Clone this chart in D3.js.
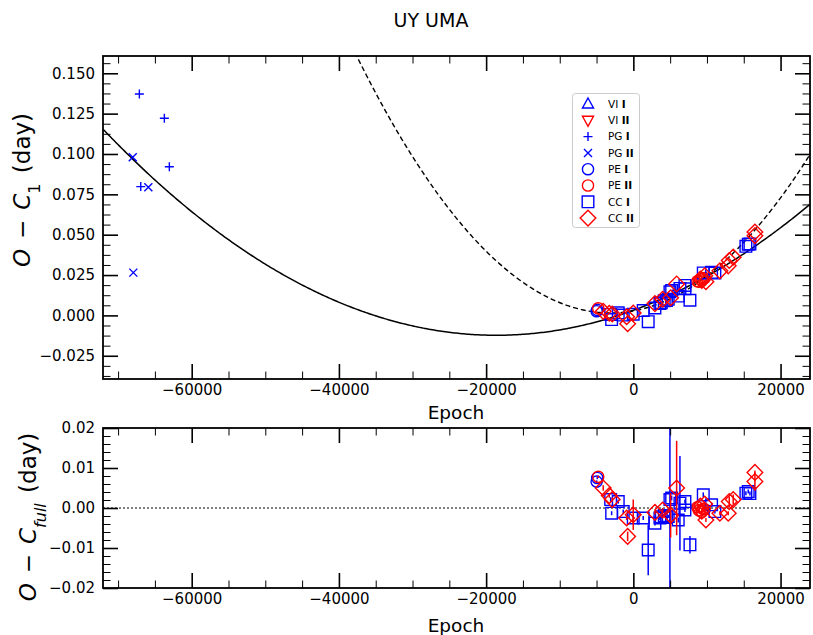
<!DOCTYPE html>
<html>
<head>
<meta charset="utf-8">
<script src="https://cdn.jsdelivr.net/npm/d3@7"></script>
<style>
  body { margin: 0; background: #fff; }
  svg text { font-family: "DejaVu Sans", sans-serif; fill: #000; }
</style>
</head>
<body>
<svg id="chart" width="813" height="635"></svg>
<script>
// ---- Observed times of minimum: epoch, O-C1 (day), residual O-C_full (day), residual error ----
const viIEpoch = [], viIOC = [], viIRes = [], viIErr = [];
const viIIEpoch = [], viIIOC = [], viIIRes = [], viIIErr = [];

const pgIEpoch = [-67110, -63715, -63036, -66920];
const pgIOC    = [0.1372, 0.1221, 0.0921, 0.0798];

const pgIIEpoch = [-68010, -65890, -67930];
const pgIIOC    = [0.0980, 0.0794, 0.0265];

const peIEpoch = [-4985, -4900];
const peIOC    = [0.0026, 0.0034];
const peIRes   = [0.0066, 0.0075];
const peIErr   = [0.0003, 0.0003];

const peIIEpoch = [-4770, 8700, 8900, 9100, 9300, 9500, 9700];
const peIIOC    = [0.0044, 0.0212, 0.0209, 0.0225, 0.0215, 0.0228, 0.0232];
const peIIRes   = [0.0078, 0.0002, -0.0006, 0.0005, -0.0010, -0.0002, -0.0003];
const peIIErr   = [0.0003, 0.0004, 0.0004, 0.0004, 0.0004, 0.0004, 0.0004];

const ccIEpoch = [-3083, -2950, -2050, -1370, -14, 1340, 2020, 2934, 3610, 3800, 4200, 4500, 4740,
                  4970, 5200, 6100, 6330, 7010, 7010, 7690, 9500, 10630, 11080, 15290, 15610, 15840];
const ccIOC    = [0.0006, -0.0026, 0.0016, 0.0002, 0.0007, 0.0030, -0.0039, 0.0046, 0.0073, 0.0079, 0.0090, 0.0092, 0.0100,
                  0.0146, 0.0155, 0.0120, 0.0167, 0.0186, 0.0165, 0.0094, 0.0263, 0.0267, 0.0262, 0.0428, 0.0441, 0.0443];
const ccIRes   = [0.0021, -0.0013, 0.0016, -0.0009, -0.0025, -0.0025, -0.0105, -0.0038, -0.0025, -0.0022, -0.0019, -0.0024, -0.0021,
                  0.0021, 0.0025, -0.0030, 0.0012, 0.0016, -0.0005, -0.0092, 0.0033, 0.0008, -0.0009, 0.0037, 0.0041, 0.0036];
const ccIErr   = [0.0006, 0.0005, 0.0005, 0.0005, 0.0005, 0.0005, 0.0063, 0.0006, 0.0005, 0.0004, 0.0004, 0.0004, 0.0004,
                  0.0250, 0.0006, 0.0006, 0.0118, 0.0005, 0.0005, 0.0022, 0.0006, 0.0005, 0.0005, 0.0005, 0.0005, 0.0005];

const ccIIEpoch = [-4090, -3270, -2866, -910, -774, -14, 2934, 3980, 5066, 5881, 9100, 9300, 9700, 9860,
                   11760, 12890, 13030, 13570, 16516, 16516];
const ccIIOC    = [0.0025, 0.0013, 0.0009, -0.0008, -0.0052, 0.0015, 0.0073, 0.0100, 0.0109, 0.0195, 0.0226, 0.0217, 0.0245, 0.0209,
                   0.0276, 0.0307, 0.0340, 0.0361, 0.0517, 0.0494];
const ccIIRes   = [0.0050, 0.0031, 0.0021, -0.0025, -0.0071, -0.0017, -0.0011, -0.0005, -0.0018, 0.0050, 0.0005, -0.0008, 0.0010, -0.0030,
                   -0.0013, -0.0013, 0.0016, 0.0021, 0.0089, 0.0066];
const ccIIErr   = [0.0007, 0.0005, 0.0005, 0.0005, 0.0012, 0.0038, 0.0005, 0.0005, 0.0056, 0.0118, 0.0005, 0.0005, 0.0005, 0.0005,
                   0.0005, 0.0005, 0.0013, 0.0013, 0.0005, 0.0023];

// ---- Quadratic ephemerides (c0 + c1*E + c2*E^2): full data set and recent data only ----
const quadFull   = [0.003173, 1.6633e-6, 4.47e-11];
const quadRecent = [0.002778, 8.269e-7, 1.338e-10];

// ---- Axis ranges and ticks ----
const epochRange   = [-72050, 24000];
const epochTicks   = [-60000, -40000, -20000, 0, 20000];
const ocTopRange   = [-0.0394, 0.1607];
const ocTopTicks   = [-0.025, 0.000, 0.025, 0.050, 0.075, 0.100, 0.125, 0.150];
const ocBotRange   = [-0.02, 0.02];
const ocBotTicks   = [-0.02, -0.01, 0.00, 0.01, 0.02];

const legendNames = [["VI", "I"], ["VI", "II"], ["PG", "I"], ["PG", "II"], ["PE", "I"], ["PE", "II"], ["CC", "I"], ["CC", "II"]];

// ---- Series table ----
const BLUE = "#0000ff", RED = "#ff0000";
const series = [
  { shape: "triUp",   color: BLUE, epoch: viIEpoch,  oc: viIOC,  res: viIRes,  err: viIErr },
  { shape: "triDown", color: RED,  epoch: viIIEpoch, oc: viIIOC, res: viIIRes, err: viIIErr },
  { shape: "plus",    color: BLUE, epoch: pgIEpoch,  oc: pgIOC,  res: [], err: [] },
  { shape: "cross",   color: BLUE, epoch: pgIIEpoch, oc: pgIIOC, res: [], err: [] },
  { shape: "circle",  color: BLUE, epoch: peIEpoch,  oc: peIOC,  res: peIRes,  err: peIErr },
  { shape: "circle",  color: RED,  epoch: peIIEpoch, oc: peIIOC, res: peIIRes, err: peIIErr },
  { shape: "square",  color: BLUE, epoch: ccIEpoch,  oc: ccIOC,  res: ccIRes,  err: ccIErr },
  { shape: "diamond", color: RED,  epoch: ccIIEpoch, oc: ccIIOC, res: ccIIRes, err: ccIIErr }
];

// ---- Layout ----
const svg = d3.select("#chart");
const L = 103, R = 810;
const top1 = 56, bot1 = 379, top2 = 428, bot2 = 588;

const x = d3.scaleLinear().domain(epochRange).range([L, R]);
const y1 = d3.scaleLinear().domain(ocTopRange).range([bot1, top1]);
const y2 = d3.scaleLinear().domain(ocBotRange).range([bot2, top2]);

function markerPath(shape) {
  switch (shape) {
    case "triUp":   return "M0,-6L5.5,4L-5.5,4Z";
    case "triDown": return "M0,6L5.5,-4L-5.5,-4Z";
    case "plus":    return "M-4.5,0H4.5M0,-4.5V4.5";
    case "cross":   return "M-4,-4L4,4M-4,4L4,-4";
    case "circle":  return d3.arc()({ innerRadius: 0, outerRadius: 5.6, startAngle: 0, endAngle: 2 * Math.PI });
    case "square":  return "M-5.8,-5.8H5.8V5.8H-5.8Z";
    case "diamond": return "M0,-7.8L7.8,0L0,7.8L-7.8,0Z";
  }
}

const defs = svg.append("defs");
defs.append("clipPath").attr("id", "clipTop")
  .append("rect").attr("x", L).attr("y", top1).attr("width", R - L).attr("height", bot1 - top1);
defs.append("clipPath").attr("id", "clipBot")
  .append("rect").attr("x", L).attr("y", top2).attr("width", R - L).attr("height", bot2 - top2);

function drawAxes(yScale, yTicks, yFmt, yTop, yBot, minorStep) {
  const g = svg.append("g");
  const majorX = epochTicks;
  const minorX = d3.range(-70000, 24001, 5000).filter(v => !majorX.includes(v));
  const majorY = yTicks;
  const minorY = d3.range(Math.ceil(yScale.domain()[0] / minorStep), Math.floor(yScale.domain()[1] / minorStep) + 1)
    .map(k => +(k * minorStep).toFixed(6))
    .filter(v => !majorY.some(m => Math.abs(m - v) < 1e-9));

  const style = (sel, w) => {
    sel.select(".domain").remove();
    sel.selectAll(".tick line").attr("stroke", "#000").attr("stroke-width", w);
    sel.selectAll(".tick text").style("font-size", "15px");
  };

  // bottom
  g.append("g").attr("transform", `translate(0,${yBot})`)
    .call(d3.axisBottom(x).tickValues(majorX).tickSize(-15).tickPadding(5).tickFormat(d3.format("d")))
    .call(s => style(s, 1.6));
  g.append("g").attr("transform", `translate(0,${yBot})`)
    .call(d3.axisBottom(x).tickValues(minorX).tickSize(-7.5).tickFormat(""))
    .call(s => style(s, 1));
  // top
  g.append("g").attr("transform", `translate(0,${yTop})`)
    .call(d3.axisTop(x).tickValues(majorX).tickSize(-15).tickFormat(""))
    .call(s => style(s, 1.6));
  g.append("g").attr("transform", `translate(0,${yTop})`)
    .call(d3.axisTop(x).tickValues(minorX).tickSize(-7.5).tickFormat(""))
    .call(s => style(s, 1));
  // left
  g.append("g").attr("transform", `translate(${L},0)`)
    .call(d3.axisLeft(yScale).tickValues(majorY).tickSize(-15).tickPadding(8).tickFormat(yFmt))
    .call(s => style(s, 1.6));
  g.append("g").attr("transform", `translate(${L},0)`)
    .call(d3.axisLeft(yScale).tickValues(minorY).tickSize(-7.5).tickFormat(""))
    .call(s => style(s, 1));
  // right
  g.append("g").attr("transform", `translate(${R},0)`)
    .call(d3.axisRight(yScale).tickValues(majorY).tickSize(-15).tickFormat(""))
    .call(s => style(s, 1.6));
  g.append("g").attr("transform", `translate(${R},0)`)
    .call(d3.axisRight(yScale).tickValues(minorY).tickSize(-7.5).tickFormat(""))
    .call(s => style(s, 1));

  g.append("rect").attr("x", L).attr("y", yTop).attr("width", R - L).attr("height", yBot - yTop)
    .attr("fill", "none").attr("stroke", "#000").attr("stroke-width", 1.8);
}

// ---- Upper panel: O - C1 ----
const quad = c => e => c[0] + c[1] * e + c[2] * e * e;
const curveE = d3.range(epochRange[0], epochRange[1] + 1, 250);
const gTop = svg.append("g").attr("clip-path", "url(#clipTop)");
const line1 = d3.line().x(d => x(d[0])).y(d => y1(d[1]));

gTop.append("path").datum(curveE.map(e => [e, quad(quadFull)(e)]))
  .attr("d", line1).attr("fill", "none").attr("stroke", "#000").attr("stroke-width", 1.5);
gTop.append("path").datum(curveE.map(e => [e, quad(quadRecent)(e)]))
  .attr("d", line1).attr("fill", "none").attr("stroke", "#000").attr("stroke-width", 1.4)
  .attr("stroke-dasharray", "5,3");

series.forEach(s => {
  gTop.selectAll(null).data(s.epoch.map((e, i) => [e, s.oc[i]])).enter()
    .append("path").attr("d", markerPath(s.shape))
    .attr("transform", d => `translate(${x(d[0])},${y1(d[1])})`)
    .attr("fill", "none").attr("stroke", s.color).attr("stroke-width", 1.4);
});

drawAxes(y1, ocTopTicks, d3.format(".3f"), top1, bot1, 0.00625);

// ---- Lower panel: residuals from the full fit ----
const gBot = svg.append("g").attr("clip-path", "url(#clipBot)");
gBot.append("line").attr("x1", L).attr("x2", R).attr("y1", y2(0)).attr("y2", y2(0))
  .attr("stroke", "#000").attr("stroke-width", 1).attr("stroke-dasharray", "2,2");

series.forEach(s => {
  const pts = s.res.map((r, i) => [s.epoch[i], r, s.err[i]]);
  gBot.selectAll(null).data(pts).enter().append("line")
    .attr("x1", d => x(d[0])).attr("x2", d => x(d[0]))
    .attr("y1", d => y2(d[1] - d[2])).attr("y2", d => y2(d[1] + d[2]))
    .attr("stroke", s.color).attr("stroke-width", 1.5);
  gBot.selectAll(null).data(pts).enter()
    .append("path").attr("d", markerPath(s.shape))
    .attr("transform", d => `translate(${x(d[0])},${y2(d[1])})`)
    .attr("fill", "none").attr("stroke", s.color).attr("stroke-width", 1.4);
});

drawAxes(y2, ocBotTicks, d3.format(".2f"), top2, bot2, 0.002);

// ---- Legend ----
const lg = svg.append("g");
lg.append("rect").attr("x", 572.5).attr("y", 93.5).attr("width", 67).attr("height", 134).attr("rx", 3)
  .attr("fill", "#fff").attr("fill-opacity", 0.8).attr("stroke", "#cccccc").attr("stroke-width", 1);
series.forEach((s, i) => {
  const yy = 104 + i * 16.3;
  lg.append("path").attr("d", markerPath(s.shape))
    .attr("transform", `translate(588,${yy})`)
    .attr("fill", "none").attr("stroke", s.color).attr("stroke-width", 1.4);
  const t = lg.append("text").attr("x", 608).attr("y", yy).attr("dy", "0.36em").style("font-size", "10.5px");
  t.append("tspan").text(legendNames[i][0] + " ");
  t.append("tspan").attr("font-weight", "bold").text(legendNames[i][1]);
});

// ---- Titles and axis labels ----
svg.append("text").attr("x", 431).attr("y", 27).attr("text-anchor", "middle").style("font-size", "19px").text("UY UMA");
svg.append("text").attr("x", 456).attr("y", 419).attr("text-anchor", "middle").style("font-size", "18.5px").text("Epoch");
svg.append("text").attr("x", 456).attr("y", 632).attr("text-anchor", "middle").style("font-size", "18.5px").text("Epoch");

// Math-style label: italic O and C, binary minus with wider spacing, subscript
function yLabel(cx, cy, sub, subItalic) {
  const t = svg.append("text").attr("transform", `translate(${cx},${cy}) rotate(-90)`)
    .attr("text-anchor", "middle").style("font-size", "23px");
  t.append("tspan").attr("font-style", "italic").text("O");
  t.append("tspan").attr("dx", 10).text("\u2212");
  t.append("tspan").attr("dx", 10).attr("font-style", "italic").text("C");
  t.append("tspan").attr("font-style", subItalic ? "italic" : "normal").attr("baseline-shift", "sub")
    .style("font-size", "16px").text(sub);
  t.append("tspan").attr("dx", 3).text(" (day)");
}
yLabel(30, 190, "1", false);
yLabel(36, 517, "full", true);
</script>
</body>
</html>
